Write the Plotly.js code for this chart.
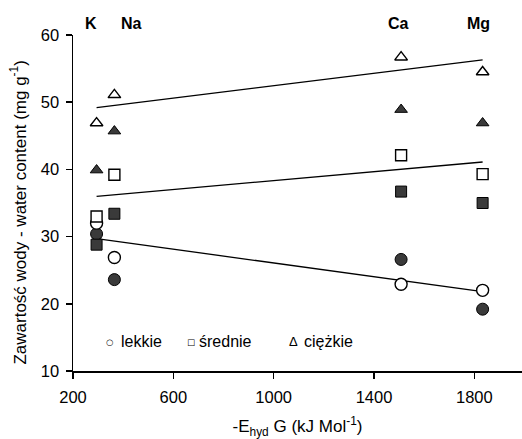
<!DOCTYPE html>
<html>
<head>
<meta charset="utf-8">
<script src="https://cdn.plot.ly/plotly-3.0.1.min.js"></script>
<style>html,body{margin:0;padding:0;background:#fff;}#chart{width:522px;height:439px;}</style>
</head>
<body>
<div id="chart"></div>
<script>
// ---- data ----
const ions = ['K', 'Na', 'Ca', 'Mg'];
const energy = [294, 365, 1508, 1833];           // -E_hyd G (kJ/mol)
const lekkieOpen    = [32.0, 26.9, 22.9, 22.0];
const lekkieFilled  = [30.4, 23.6, 26.6, 19.2];
const srednieOpen   = [33.0, 39.2, 42.1, 39.3];
const srednieFilled = [28.8, 33.4, 36.7, 35.0];
const ciezkieOpen   = [46.9, 51.1, 56.7, 54.5];
const ciezkieFilled = [39.9, 45.7, 48.9, 46.9];
const trendX = [294, 1833];
const lekkieTrend  = [29.7, 21.8];
const srednieTrend = [36.0, 41.1];
const ciezkieTrend = [49.2, 56.3];
const xTicks = [200, 600, 1000, 1400, 1800];
const yTicks = [10, 20, 30, 40, 50, 60];
const legendNames = ['lekkie', 'średnie', 'ciężkie'];

// ---- styling ----
const FONT = 'Liberation Sans, Arial, sans-serif';
const DARK = '#3a3a3a';
const lineStyle = {color: '#000', width: 1.3};

function trend(y) {
  return {x: trendX, y: y, mode: 'lines', line: lineStyle, showlegend: false, hoverinfo: 'skip'};
}
function pts(y, symbol, filled, size) {
  return {
    x: energy, y: y, mode: 'markers', showlegend: false,
    marker: {symbol: symbol, size: size, color: filled ? DARK : '#fff',
             line: {color: '#000', width: filled ? 1 : 1.4}}
  };
}

const data = [
  trend(lekkieTrend), trend(srednieTrend), trend(ciezkieTrend),
  pts(lekkieFilled, 'circle', true, 12),
  pts(lekkieOpen, 'circle', false, 12),
  pts(srednieFilled, 'square', true, 11),
  pts(srednieOpen, 'square', false, 11),
  pts(ciezkieFilled, 'triangle-up', true, 11),
  pts(ciezkieOpen, 'triangle-up', false, 11)
];

const ionShift = [-6, 17, -3, -4];
const annotations = ions.map((t, i) => ({
  text: '<b>' + t + '</b>', x: energy[i], xref: 'x', y: 1.033, yref: 'paper',
  xshift: ionShift[i], showarrow: false, xanchor: 'center', yanchor: 'middle',
  font: {family: FONT, size: 16, color: '#000'}
}));

const legSym = ['○', '□', 'Δ'];
const legSymX = [0.0824, 0.2617, 0.4922];
const legTxtX = [0.1030, 0.2770, 0.5090];
const legY = 0.087;
legendNames.forEach((n, i) => {
  annotations.push({text: legSym[i], x: legSymX[i], xref: 'paper', y: legY, yref: 'paper',
    showarrow: false, xanchor: 'center', yanchor: 'middle',
    font: {family: i === 2 ? FONT : 'DejaVu Sans, sans-serif', size: i === 2 ? 13 : 8.5, color: '#000'}});
  annotations.push({text: n, x: legTxtX[i], xref: 'paper', y: legY, yref: 'paper',
    showarrow: false, xanchor: 'left', yanchor: 'middle',
    font: {family: FONT, size: 16, color: '#000'}});
});

// y-axis title (placed as a rotated annotation to match the reference's vertical offset)
annotations.push({
  text: 'Zawartość wody - water content (mg g<sup>-1</sup>)',
  x: -0.1214, xref: 'paper', y: 0.473, yref: 'paper', textangle: -90,
  showarrow: false, xanchor: 'center', yanchor: 'middle',
  font: {family: FONT, size: 17, color: '#000'}
});

const axisCommon = {
  showgrid: false, zeroline: false, showline: true, linecolor: '#000', linewidth: 1.5,
  ticks: 'outside', ticklen: 6, tickwidth: 1.5, tickcolor: '#000',
  tickfont: {family: FONT, size: 16.5, color: '#000'}
};

const layout = {
  width: 522, height: 439,
  margin: {l: 73, r: 0, t: 35, b: 68},
  paper_bgcolor: '#fff', plot_bgcolor: '#fff',
  font: {family: FONT, size: 16, color: '#000'},
  showlegend: false,
  xaxis: Object.assign({}, axisCommon, {
    range: [200, 1990], tickvals: xTicks, ticktext: xTicks.map(String), ticklabelstandoff: 5,
    title: {text: '-E<sub>hyd</sub> G (kJ Mol<sup>-1</sup>)', font: {family: FONT, size: 17, color: '#000'}, standoff: 18}
  }),
  yaxis: Object.assign({}, axisCommon, {
    range: [10, 60], tickvals: yTicks, ticktext: yTicks.map(String), ticklabelstandoff: 3
  }),
  annotations: annotations
};

Plotly.newPlot('chart', data, layout, {displayModeBar: false, staticPlot: true});
</script>
</body>
</html>
